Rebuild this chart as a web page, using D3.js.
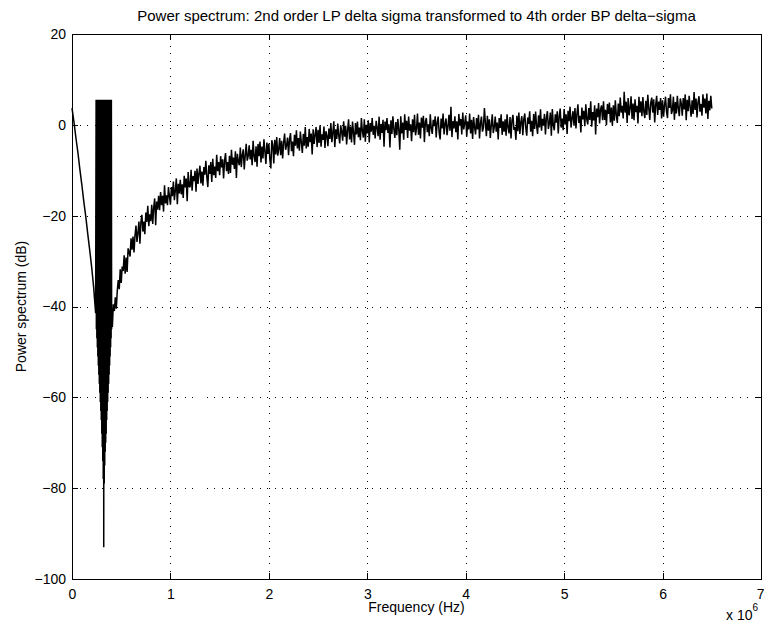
<!DOCTYPE html>
<html>
<head>
<meta charset="utf-8">
<script src="https://cdn.jsdelivr.net/npm/d3@7"></script>
<style>
  body { margin: 0; background: #fff; }
  svg text { font-family: "Liberation Sans", Arial, Helvetica, sans-serif; fill: #000; }
</style>
</head>
<body>
<script>
/*------------------------------------------------------------------------------
Data. Frequencies are in units of 1e6 Hz (axis shows x 10^6).
------------------------------------------------------------------------------*/
var xTicks = [0, 1, 2, 3, 4, 5, 6, 7];
var yTicks = [-100, -80, -60, -40, -20, 0, 20];

// straight falling part from DC down to the notch
var slopeFreq = [0, 0.02, 0.04, 0.06, 0.08, 0.10, 0.12, 0.14, 0.16, 0.18, 0.20, 0.22, 0.24];
var slopeDb = [3.7, 0.6, -2.9, -6.1, -9.8, -13.2, -16.9, -20.2, -24.0, -27.6, -31.4, -35.8, -41.5];

// dense band around the notch: every bin swings between the top and a floor
var bandStart = 0.245, bandStep = 0.005;
var bandTopDb = 5.5;
var bandFloorDb = [-45, -47, -49, -51, -53, -55, -57, -59, -61, -63, -65, -68, -71, -74, -78, -93,
                   -79, -75, -72, -70, -68, -65, -63, -61, -59, -57, -55, -53, -51, -49, -47, -45];

// noisy rising part, one bin every 0.01e6 Hz from 0.40e6 Hz
var noiseStart = 0.40, noiseStep = 0.01;
var noiseDb = [
  -43.0, -44.5, -39.5, -41.0, -38.0, -40.5, -36.5, -34.2, -36.2, -31.8,
  -34.8, -31.2, -32.2, -28.7, -32.8, -29.2, -32.4, -27.2, -28.0, -29.0,
  -25.0, -27.5, -24.6, -28.1, -24.4, -22.2, -25.8, -23.8, -21.3, -26.2,
  -21.4, -19.8, -23.5, -21.3, -24.1, -19.3, -21.4, -17.8, -22.3, -19.7,
  -21.2, -17.6, -21.8, -18.2, -16.2, -22.1, -16.9, -18.7, -15.6, -18.8,
  -14.8, -17.7, -15.6, -19.1, -13.3, -17.3, -15.5, -17.7, -13.7, -15.8,
  -17.6, -13.7, -15.7, -12.5, -16.6, -14.4, -11.8, -17.5, -13.0, -15.1,
  -12.1, -15.3, -13.1, -16.1, -11.2, -13.8, -11.8, -16.8, -10.4, -13.6,
  -13.7, -9.9, -14.5, -11.3, -12.4, -10.1, -14.7, -9.6, -13.0, -10.7,
  -9.0, -12.9, -10.3, -13.4, -9.3, -11.0, -7.9, -11.5, -13.7, -8.9,
  -10.8, -8.2, -12.6, -7.5, -11.1, -9.2, -11.7, -6.6, -10.2, -8.2,
  -11.1, -6.9, -9.4, -7.6, -11.8, -7.9, -6.2, -10.2, -8.2, -10.8,
  -6.8, -10.6, -5.5, -8.8, -7.2, -9.7, -5.8, -11.7, -6.4, -8.1,
  -8.9, -5.0, -9.3, -6.6, -5.4, -9.8, -6.7, -4.2, -7.9, -6.9,
  -4.5, -7.6, -5.5, -8.9, -3.5, -6.9, -8.2, -4.7, -9.2, -4.2,
  -6.9, -3.7, -8.3, -4.8, -7.4, -3.2, -5.9, -8.6, -3.9, -6.4,
  -4.1, -7.6, -9.6, -3.4, -4.4, -8.5, -3.3, -6.5, -2.7, -6.8,
  -5.4, -2.9, -6.7, -3.5, -7.4, -3.9, -1.9, -5.5, -4.5, -2.8,
  -6.7, -3.2, -1.8, -5.8, -3.7, -6.9, -2.2, -4.6, -1.2, -5.2,
  -2.9, -5.7, -1.5, -3.9, -6.2, -2.0, -4.6, -0.5, -5.2, -2.7,
  -4.8, -0.9, -3.8, -1.9, -6.5, -1.0, -4.2, -2.1, -0.5, -4.9,
  -1.1, -4.0, -0.1, -4.8, -2.1, -3.3, -0.4, -5.1, -1.4, -2.4,
  -4.7, -0.8, -3.1, 0.4, -3.8, -1.7, 0.8, -4.9, -1.0, -3.1,
  0.3, -2.4, -4.1, -0.1, -1.5, -3.5, 0.8, -2.6, -0.2, -4.3,
  -1.1, 1.2, -3.2, -0.4, -3.9, 0.7, -1.7, -4.4, 0.4, -2.1,
  0.7, -2.7, -0.6, -3.4, 1.5, -1.4, -2.8, 1.2, -3.7, 0.0,
  -1.9, 1.0, -3.9, 0.4, -1.5, 1.5, -2.2, -0.2, -3.0, 0.9,
  -0.7, -2.5, 1.8, -3.3, 0.2, -1.8, 1.1, -4.8, 0.7, -1.2,
  1.5, -1.8, 0.1, -5.0, 1.0, -2.0, 1.9, -0.9, -2.9, 0.6,
  -2.3, 1.3, -1.0, -5.5, 1.9, -1.9, 0.5, -3.3, 2.3, -1.1,
  0.9, -2.9, 1.8, -1.3, 0.1, -3.6, 1.2, -1.6, 2.2, -2.3,
  -0.8, 2.5, -2.2, 0.5, -3.0, 1.6, -0.6, 2.0, -3.8, 0.7,
  1.5, -1.6, 0.1, -2.5, 2.3, -0.8, -2.0, 1.1, -0.3, 1.9,
  -2.8, 0.5, 1.8, -1.7, -3.2, 1.4, -0.8, 2.5, -2.1, 0.2,
  1.4, -2.3, -0.4, 2.2, -1.3, 4.0, -2.7, 0.8, -0.8, 1.9,
  -1.6, 0.8, -3.2, 2.4, -0.2, 1.3, -2.1, 2.7, -1.0, 0.4,
  2.1, -2.6, 0.7, -1.0, 2.5, -1.9, 1.1, -3.1, 1.7, -0.5,
  -2.1, 1.5, -1.0, 2.2, -3.0, 0.4, 1.8, -1.5, -0.6, 3.7,
  0.4, -2.5, 2.0, -1.3, 1.2, -2.9, 0.0, 2.3, -1.8, -0.5,
  1.8, -1.5, 0.5, -3.2, 1.5, -0.7, 2.3, -2.2, 0.8, -1.5,
  1.2, -2.4, 2.3, -0.5, -1.9, 1.7, -3.0, 0.9, 2.2, -1.1,
  -0.5, -3.3, 2.0, -1.4, 2.7, -2.0, 0.6, 1.9, -2.3, 1.2,
  2.5, -0.7, -2.4, 1.6, 0.2, 3.0, -1.5, 0.9, -2.5, 2.4,
  -0.9, 2.9, -0.2, -2.0, 2.1, -0.6, 3.4, -1.3, 1.3, -0.2,
  2.4, -2.1, 1.6, 3.0, -0.9, 0.4, 2.7, -2.4, 3.5, -0.1,
  -1.2, 2.3, 0.5, 3.0, -1.9, 1.9, 3.6, -0.6, 1.4, -1.2,
  3.5, 0.1, 2.3, -2.0, 3.1, 0.8, 4.0, -0.6, 1.4, 3.0,
  -0.2, 3.7, -0.8, 2.4, 4.5, 0.4, 2.0, -1.7, 3.8, 1.2,
  3.1, -0.3, 4.5, 1.2, 0.1, 3.7, 1.1, 5.2, -0.4, 2.8,
  1.0, 4.3, -2.1, 3.6, 1.7, 4.8, 0.3, 3.4, 4.3, 1.0,
  5.2, 1.1, 3.3, -0.1, 4.6, 2.4, 4.9, 0.5, 3.8, -0.2,
  4.3, 0.9, 5.4, 2.2, 0.4, 4.7, 1.9, 6.0, 2.7, 4.2,
  1.4, 7.3, 2.7, 5.1, 0.4, 5.9, 2.1, 3.7, 6.3, 1.3,
  4.7, 1.0, 5.6, 2.8, 4.2, 0.3, 6.2, 2.7, 5.2, 1.9,
  6.1, 2.8, 1.5, 5.3, 2.2, 6.6, 3.6, 1.1, 4.9, 6.0,
  2.7, 5.6, 0.5, 4.4, 6.4, 2.2, 5.1, 3.3, 5.9, 1.4,
  5.4, 1.8, 4.3, 6.2, 2.9, 1.5, 5.9, 3.7, 6.7, 2.4,
  3.2, 6.2, 1.1, 5.0, 2.5, 6.4, 3.6, 1.9, 5.8, 4.7,
  2.0, 5.9, 3.4, 6.7, 1.0, 5.5, 3.0, 6.4, 4.0, 1.8,
  5.4, 2.4, 7.2, 3.3, 5.8, 1.6, 5.0, 6.3, 2.9, 4.6,
  2.0, 6.7, 3.8, 5.8, 2.5, 6.9, 1.3, 5.3, 3.2, 6.4,
  3.6
];

/*------------------------------------------------------------------------------
Sizes and scales
------------------------------------------------------------------------------*/
var width = 764,
    height = 628,
    margin = {top: 34, right: 3, bottom: 49, left: 72};

var x = d3.scaleLinear()
    .domain([0, 7])
    .range([margin.left, width - margin.right]);

var y = d3.scaleLinear()
    .domain([-100, 20])
    .range([height - margin.bottom, margin.top]);

var svg = d3.select("body").append("svg")
    .attr("width", width)
    .attr("height", height);

/*------------------------------------------------------------------------------
Dotted grid
------------------------------------------------------------------------------*/
var grid = svg.append("g").attr("stroke", "#000").attr("stroke-width", 1)
    .attr("stroke-dasharray", "1,6.5").attr("shape-rendering", "crispEdges");

grid.selectAll(".gx")
    .data(xTicks.slice(1, -1))
  .enter().append("line")
    .attr("x1", function(d) { return Math.round(x(d)) + 0.5; })
    .attr("x2", function(d) { return Math.round(x(d)) + 0.5; })
    .attr("y1", y(-100))
    .attr("y2", y(20));

grid.selectAll(".gy")
    .data(yTicks.slice(1, -1))
  .enter().append("line")
    .attr("y1", function(d) { return Math.round(y(d)) + 0.5; })
    .attr("y2", function(d) { return Math.round(y(d)) + 0.5; })
    .attr("x1", x(0))
    .attr("x2", x(7));

/*------------------------------------------------------------------------------
Build the trace: slope, then the notch band, then the noisy part
------------------------------------------------------------------------------*/
var points = [];
slopeFreq.forEach(function(f, i) { points.push([f, slopeDb[i]]); });
bandFloorDb.forEach(function(v, i) {
  var f = bandStart + i * bandStep;
  points.push([f, bandTopDb]);
  points.push([f + bandStep / 2, v]);
});
noiseDb.forEach(function(v, i) { points.push([noiseStart + i * noiseStep, v]); });

var line = d3.line()
    .x(function(d) { return x(d[0]); })
    .y(function(d) { return y(d[1]); });

svg.append("path")
    .datum(points)
    .attr("fill", "none")
    .attr("stroke", "#000")
    .attr("stroke-width", 1.5)
    .attr("stroke-linejoin", "bevel")
    .attr("d", line);

/*------------------------------------------------------------------------------
Axes with inward ticks on all four sides
------------------------------------------------------------------------------*/
function styleAxis(g) {
  g.selectAll("path, line").attr("stroke", "#000").attr("shape-rendering", "crispEdges");
  g.selectAll("text").attr("font-size", 14).attr("fill", "#000")
    .attr("font-family", "'Liberation Sans', Arial, sans-serif");
}

var xAxis = svg.append("g")
    .attr("transform", "translate(0," + y(-100) + ")")
    .call(d3.axisBottom(x).tickValues(xTicks).tickFormat(d3.format("d"))
      .tickSizeInner(-6).tickSizeOuter(0).tickPadding(10))
    .call(styleAxis);

// keep the last label inside the picture
xAxis.selectAll(".tick text").filter(function(d) { return d === 7; })
    .attr("text-anchor", "end").attr("dx", 3);

svg.append("g")
    .attr("transform", "translate(0," + y(20) + ")")
    .call(d3.axisTop(x).tickValues(xTicks).tickFormat("")
      .tickSizeInner(-6).tickSizeOuter(0))
    .call(styleAxis);

svg.append("g")
    .attr("transform", "translate(" + x(0) + ",0)")
    .call(d3.axisLeft(y).tickValues(yTicks).tickFormat(d3.format("d"))
      .tickSizeInner(-6).tickSizeOuter(0).tickPadding(6))
    .call(styleAxis);

svg.append("g")
    .attr("transform", "translate(" + x(7) + ",0)")
    .call(d3.axisRight(y).tickValues(yTicks).tickFormat("")
      .tickSizeInner(-6).tickSizeOuter(0))
    .call(styleAxis);

/*------------------------------------------------------------------------------
Labels
------------------------------------------------------------------------------*/
svg.append("text")
    .attr("x", (x(0) + x(7)) / 2)
    .attr("y", 21)
    .attr("text-anchor", "middle")
    .attr("font-size", 15)
    .text("Power spectrum: 2nd order LP delta sigma transformed to 4th order BP delta\u2212sigma");

svg.append("text")
    .attr("x", (x(0) + x(7)) / 2)
    .attr("y", 612)
    .attr("text-anchor", "middle")
    .attr("font-size", 14)
    .text("Frequency (Hz)");

svg.append("text")
    .attr("transform", "translate(26," + (y(-100) + y(20)) / 2 + ") rotate(-90)")
    .attr("text-anchor", "middle")
    .attr("font-size", 14)
    .text("Power spectrum (dB)");

var expo = svg.append("text")
    .attr("x", 726)
    .attr("y", 620)
    .attr("font-size", 14)
    .text("x 10");
expo.append("tspan")
    .attr("dy", -9)
    .attr("font-size", 10)
    .text("6");
</script>
</body>
</html>
